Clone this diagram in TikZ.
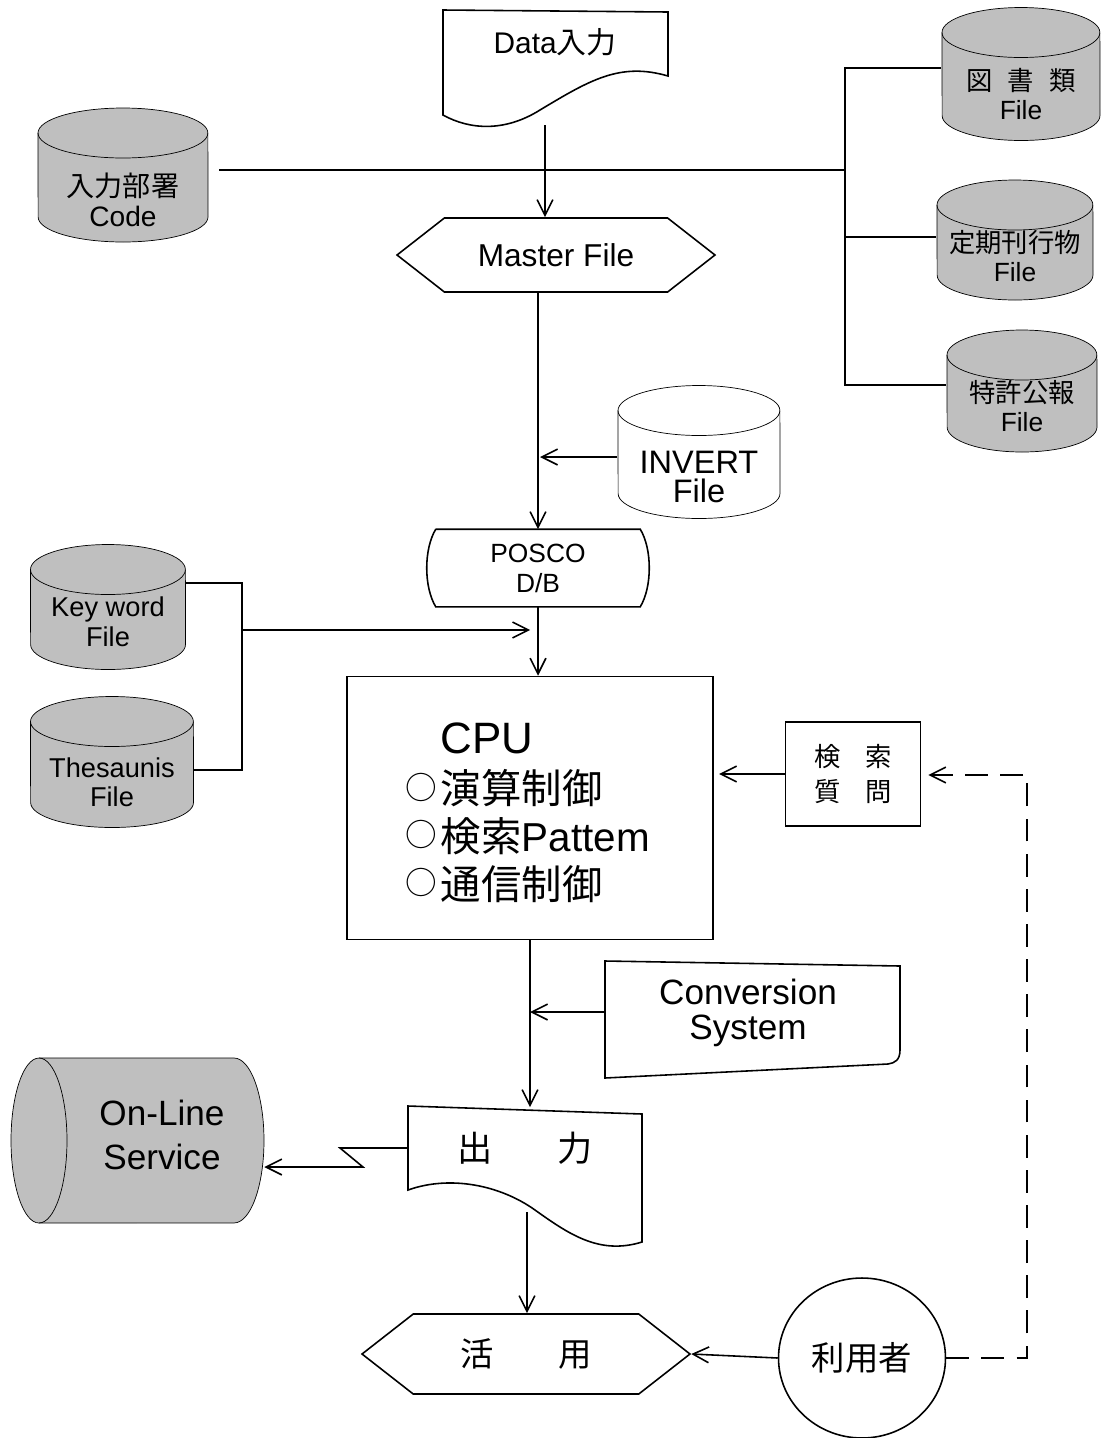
\documentclass[tikz,border=0pt]{standalone}
\usepackage{fontspec}
\setmainfont{Liberation Sans}
\newfontfamily\jfont{Noto Sans CJK JP}
\usetikzlibrary{
arrows.meta,
backgrounds,
shapes.geometric,
shapes.symbols
}
\newcommand{\fsz}[2]{\fontsize{#1}{#2}\selectfont}
\newcommand{\ring}{\raisebox{2.5pt}{\fsz{18}{23}○}\hspace{2pt}}
% drum: [fill]{name}{text centre}{width}{height}{shift of drum centre}{font}{text}
\newcommand{\drum}[8][black!25]{%
  \node[minimum width={#4*0.02cm}, font=#7] (#2) at (#3) {#8};
  \begin{scope}[on background layer]
    \path[draw, fill=#1] ([shift={({-#4/2},{#6-#5/2+25})}]#2.center)
        arc[start angle=180, end angle=0, x radius={#4*0.01cm}, y radius=0.5cm]
        -- ([shift={({#4/2},{#6+#5/2-25})}]#2.center)
        arc[start angle=0, end angle=-180, x radius={#4*0.01cm}, y radius=0.5cm]
        -- cycle;
    \draw ([shift={({-#4/2},{#6-#5/2+25})}]#2.center)
        arc[start angle=180, end angle=360, x radius={#4*0.01cm}, y radius=0.5cm];
  \end{scope}}

\begin{document}
\begin{tikzpicture}[
    x=0.02cm, y=-0.02cm, line width=0.9pt,
    >={Straight Barb[length=9pt,width=9pt]},
    every node/.style={align=center, inner sep=0pt},
    flag/.style={signal, signal to=west and east, signal pointer angle=76, draw},
    box/.style={rectangle, draw}]
  \useasboundingbox (0,0) rectangle (1106,1438);
  % input side
  \draw (443,10) -- (668,12) -- (668,76) .. controls (620,62) and (590,80) .. (540,110)
      .. controls (505,132) and (470,130) .. (443,115) -- cycle;
  \node[font=\fsz{17}{20}] (datain) at (555,42) {Data{\jfont 入力}};
  \drum{code}{123,200}{170}{134}{-25}{\fsz{16}{17}}{{\jfont 入力部署}\\Code}
  \node[flag, minimum width=6.36cm, minimum height=1.48cm, font=\fsz{18}{20}] (master) at (556,255)
      {Master File};
  % source files
  \drum{tosho}{1021,94}{158}{133}{-20}{\fsz{15}{17}}{{\jfont 図\hspace{0.3cm}書\hspace{0.3cm}類}\\File}
  \drum{teiki}{1015,256}{156}{120}{-16}{\fsz{15}{17}}{{\jfont 定期刊行物}\\File}
  \drum{tokkyo}{1022,406}{150}{122}{-15}{\fsz{15}{17}}{{\jfont 特許公報}\\File}
  \drum[white]{invert}{699,477}{162}{133}{-25}{\fsz{18.5}{17}}{INVERT\\File}
  \node[minimum width=4.06cm, minimum height=1.52cm, font=\fsz{15}{17}] (posco) at (538,568)
      {POSCO\\D/B};
  \draw (posco.north west) -- (posco.north east) .. controls +(12,20) and +(12,-20) .. (posco.south east)
      -- (posco.south west) .. controls +(-12,-20) and +(-12,20) .. (posco.north west);
  \drum{keyword}{108,622}{155}{125}{-15}{\fsz{15.5}{17}}{Key word\\File}
  \drum{thes}{112,782}{163}{131}{-20}{\fsz{15.5}{16.5}}{Thesaunis\\File}
  % processing
  \node[box, minimum width=7.32cm, minimum height=5.26cm] (cpu) at (530,808) {};
  \node[anchor=west, font=\fsz{25}{25}] (cputitle) at (440,738) {CPU};
  \node[anchor=west, font={\fsz{23}{23}\jfont}] (cpuA) at (405,788) {\ring 演算制御};
  \node[anchor=west, font=\fsz{23}{23}] (cpuB) at (405,836) {{\jfont\ring 検索}Pattem};
  \node[anchor=west, font={\fsz{23}{23}\jfont}] (cpuC) at (405,884) {\ring 通信制御};
  \node[box, minimum width=2.7cm, minimum height=2.08cm, font={\fsz{15}{20}\jfont}] (query) at (853,774)
      {検\hspace{0.5cm}索\\質\hspace{0.5cm}問};
  \draw (605,961) -- (900,966) -- (900,1050) .. controls (900,1060) and (895,1063) .. (888,1064)
      -- (605,1078) -- cycle;
  \node[font=\fsz{20}{19.5}] (conv) at (748,1013) {Conversion\\System};
  % output side
  \draw (408,1106) -- (642,1114) -- (642,1242) .. controls (600,1255) and (570,1235) .. (535,1210)
      .. controls (500,1185) and (450,1175) .. (408,1190) -- cycle;
  \node[minimum width=4.68cm, minimum height=1.6cm, font={\fsz{20}{20}\jfont}] (output) at (525,1148)
      {出\hspace{1.3cm}力};
  \node[minimum width=5.06cm, font=\fsz{20}{25.5}] (online) at (137,1135)
      {\hspace*{1cm}On-Line\\\hspace*{1cm}Service};
  \begin{scope}[on background layer]
    \path[draw, fill=black!25] (39,1058) -- (234,1058)
        arc[start angle=90, end angle=-90, x radius=0.6cm, y radius=1.65cm]
        -- (39,1223) arc[start angle=270, end angle=90, x radius=0.56cm, y radius=1.65cm] -- cycle;
    \draw (39,1058) arc[start angle=90, end angle=-90, x radius=0.56cm, y radius=1.65cm];
  \end{scope}
  \node[flag, minimum width=6.56cm, minimum height=1.6cm, font={\fsz{19}{19}\jfont}] (katsuyo) at (526,1354)
      {活\hspace{1.3cm}用};
  \node[ellipse, draw, minimum width=3.34cm, minimum height=3.2cm, font={\fsz{19}{19}\jfont}] (user) at (862,1358)
      {利用者};
  % connectors
  \coordinate (d1) at (545,125);
  \coordinate (bus1) at (845,68);
  \coordinate (bus2) at (845,385);
  \coordinate (bus3) at (845,237);
  \coordinate (bus4) at (845,170);
  \coordinate (i1) at (540,457);
  \coordinate (k1) at (242,583);
  \coordinate (k2) at (242,770);
  \coordinate (k3) at (242,630);
  \coordinate (v1) at (605,1012);
  \coordinate (z1) at (340,1148);
  \coordinate (z2) at (363,1167);
  \coordinate (o1) at (527,1212);
  \coordinate (q1) at (1027,775);
  \draw[->] (d1) -- (d1 |- master.north);
  \draw (tosho.west |- bus1) -- (bus1) -- (bus2) -- (tokkyo.west |- bus2);
  \draw (bus3) -- (bus3 -| teiki.west);
  \draw[shorten <=6pt] (code.east |- bus4) -- (bus4);
  \draw[->] (master.south -| posco.north) -- (posco.north);
  \draw[->] (invert.west |- i1) -- (i1);
  \draw[->] (posco.south) -- (posco.south |- cpu.north);
  \draw (keyword.east |- k1) -- (k1) -- (k2) -- (thes.east |- k2);
  \draw[->, shorten >=4.5pt] (k3) -- (k3 -| posco.south);
  \draw[->, shorten >=3pt] (query.west) -- (query.west -| cpu.east);
  \draw[->] (cpu.south) -- (cpu.south |- output.north);
  \draw[->] (v1) -- (v1 -| cpu.south);
  \draw[->] (output.west) -- (z1) -- (z2) -- (z2 -| online.east);
  \draw[->] (o1) -- (o1 |- katsuyo.north);
  \draw[->] (user.west) -- (katsuyo.east);
  \draw[->, dash pattern=on 13pt off 7pt, shorten >=4pt] (user.east) -| (q1) -- (q1 -| query.east);
\end{tikzpicture}
\end{document}
